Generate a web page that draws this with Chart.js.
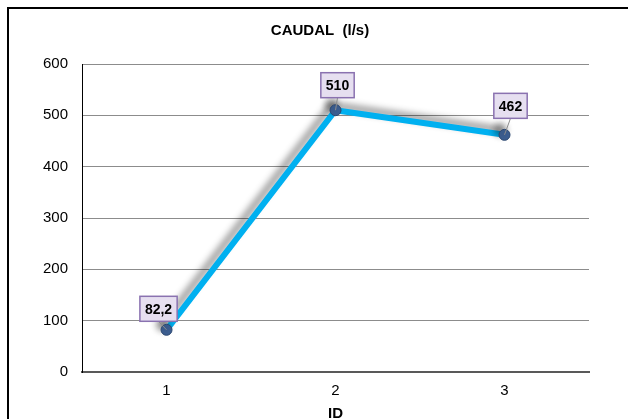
<!DOCTYPE html>
<html>
<head>
<meta charset="utf-8">
<script src="https://cdn.jsdelivr.net/npm/chart.js@4/dist/chart.umd.min.js"></script>
<style>
  html, body { margin: 0; padding: 0; background: #fff; }
  #wrap { position: relative; width: 628px; height: 419px; overflow: hidden; }
  #frame { position: absolute; left: 7px; top: 7px; width: 640px; height: 440px; border: 2px solid #000; box-sizing: border-box; }
  canvas { position: absolute; left: 0; top: 0; }
</style>
</head>
<body>
<div id="wrap">
  <div id="frame"></div>
  <canvas id="c" width="628" height="419"></canvas>
</div>
<script>
// Flow per ID
const ids = ['1', '2', '3'];
const caudal = [82.2, 510, 462];
const yTicks = [0, 100, 200, 300, 400, 500, 600];

const FONT = '"Liberation Sans", Arial, sans-serif';
const fmt = v => String(v).replace('.', ',');

// Centre the title over the whole frame rather than the padded area
const titleShift = {
  id: 'titleShift',
  afterLayout(chart) {
    const t = chart.titleBlock;
    if (t) { t.left += 11; t.right += 11; }
  }
};

// Soft shadow under the series line
const lineShadow = {
  id: 'lineShadow',
  beforeDatasetDraw(chart) {
    const ctx = chart.ctx;
    ctx.save();
    ctx.shadowColor = 'rgba(0,0,0,0.45)';
    ctx.shadowBlur = 7;
    ctx.shadowOffsetX = -4;
    ctx.shadowOffsetY = -5;
  },
  afterDatasetDraw(chart) {
    chart.ctx.restore();
  }
};

// Boxed value labels with leader lines
const valueBoxes = {
  id: 'valueBoxes',
  afterDatasetsDraw(chart) {
    const ctx = chart.ctx;
    const meta = chart.getDatasetMeta(0);
    const offsets = [[-8, -21], [2, -25], [6, -29]];
    ctx.save();
    ctx.font = 'bold 14px ' + FONT;
    ctx.textAlign = 'center';
    ctx.textBaseline = 'middle';
    meta.data.forEach((pt, i) => {
      const text = fmt(caudal[i]);
      const w = ctx.measureText(text).width + 10;
      const h = 25;
      const cx = pt.x + offsets[i][0];
      const cy = pt.y + offsets[i][1];
      // leader line
      ctx.strokeStyle = '#8c8c8c';
      ctx.lineWidth = 1;
      ctx.beginPath();
      ctx.moveTo(cx, cy + h / 2);
      ctx.lineTo(pt.x, pt.y);
      ctx.stroke();
      // box
      ctx.fillStyle = '#e6dff0';
      ctx.strokeStyle = '#8a72b0';
      ctx.lineWidth = 1.5;
      ctx.fillRect(cx - w / 2, cy - h / 2, w, h);
      ctx.strokeRect(cx - w / 2, cy - h / 2, w, h);
      ctx.fillStyle = '#000';
      ctx.fillText(text, cx, cy + 1);
    });
    ctx.restore();
  }
};

new Chart(document.getElementById('c'), {
  type: 'line',
  data: {
    labels: ids,
    datasets: [{
      data: caudal,
      borderColor: '#00b0f0',
      borderWidth: 6,
      tension: 0,
      pointRadius: 5.5,
      pointBackgroundColor: '#3d5f92',
      pointBorderColor: '#2b4770',
      pointBorderWidth: 1
    }]
  },
  options: {
    responsive: false,
    animation: false,
    layout: { padding: { left: 29, right: 39, top: 0, bottom: 0 } },
    plugins: {
      legend: { display: false },
      tooltip: { enabled: false },
      title: {
        display: true,
        text: 'CAUDAL  (l/s)',
        color: '#000',
        font: { family: FONT, size: 15, weight: 'bold' },
        padding: { top: 22, bottom: 24 }
      }
    },
    scales: {
      x: {
        offset: true,
        grid: { display: false, drawTicks: false },
        border: { display: true, color: '#595959', width: 2 },
        ticks: {
          color: '#000',
          padding: 10,
          font: { family: FONT, size: 15 }
        },
        title: {
          display: true,
          text: 'ID',
          color: '#000',
          padding: { top: -5, bottom: -4 },
          font: { family: FONT, size: 15, weight: 'bold' }
        }
      },
      y: {
        min: 0,
        max: 600,
        afterBuildTicks(axis) { axis.ticks = yTicks.map(v => ({ value: v })); },
        grid: { color: '#8c8c8c', lineWidth: 1, drawTicks: false },
        border: { display: true, color: '#000', width: 1 },
        ticks: {
          color: '#000',
          padding: 14,
          font: { family: FONT, size: 15 }
        }
      }
    }
  },
  plugins: [titleShift, lineShadow, valueBoxes]
});
</script>
</body>
</html>
